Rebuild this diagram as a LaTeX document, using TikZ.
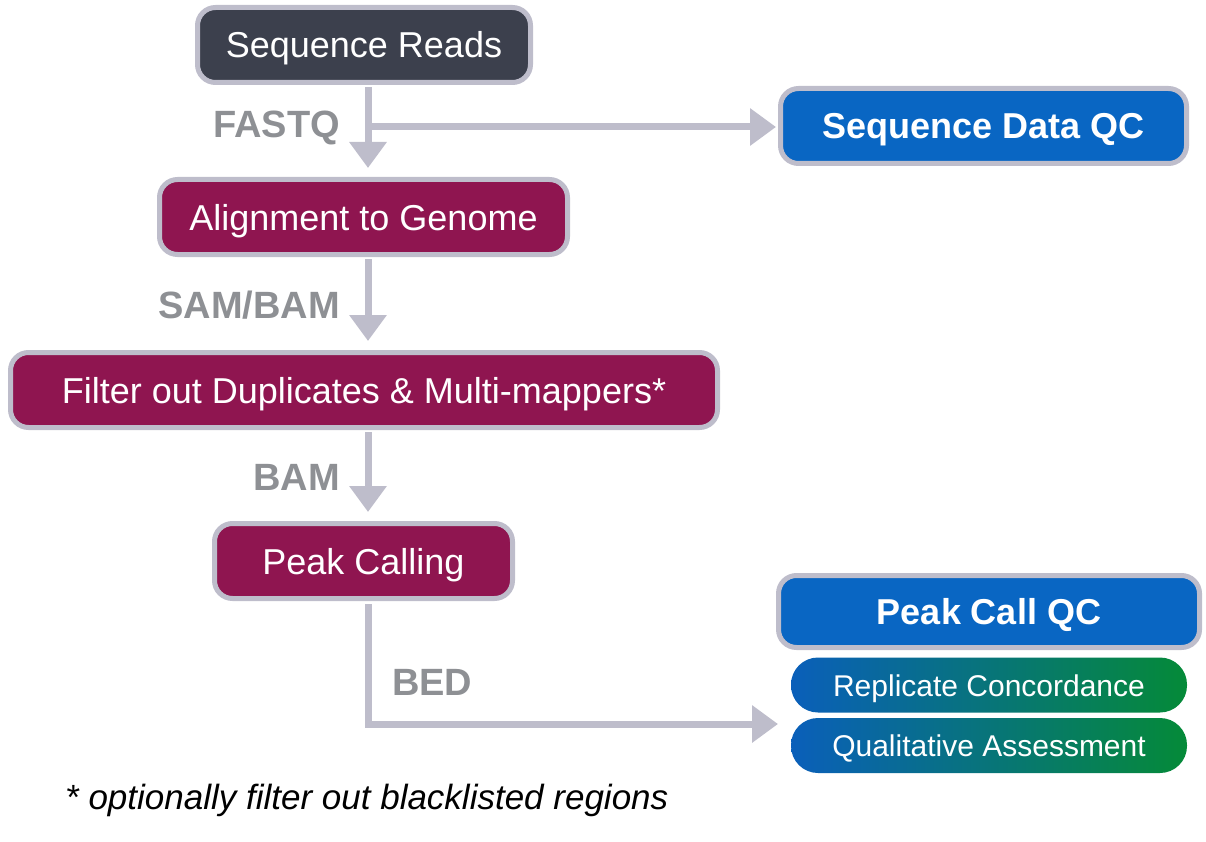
\documentclass[tikz,border=0pt]{standalone}
\usepackage{fontspec}
\setmainfont{Liberation Sans}
\usetikzlibrary{arrows.meta}

\definecolor{rim}{HTML}{BEBDCB}
\definecolor{slate}{HTML}{3C404D}
\definecolor{wine}{HTML}{8F1550}
\definecolor{qcblue}{HTML}{0966C3}
\definecolor{tagtext}{HTML}{8E9094}
\definecolor{gradblue}{HTML}{0A5FBA}
\definecolor{gradgreen}{HTML}{058A38}

\tikzset{
  box/.style={draw=rim, line width=5pt, rounded corners=18pt, text=white,
    inner sep=0pt, minimum height=75pt, text height=26pt, text depth=0pt,
    font=\fontsize{36}{43}\selectfont},
  darkbox/.style={box, fill=slate},
  stepbox/.style={box, fill=wine},
  qcbox/.style={box, fill=qcblue, font=\fontsize{36}{43}\selectfont\bfseries},
  subbox/.style={rounded corners=27pt, left color=gradblue, right color=gradgreen,
    text=white, inner sep=0pt, minimum width=396pt, minimum height=55pt,
    text height=22pt, text depth=0pt,
    font=\fontsize{30}{36}\selectfont},
  flow/.style={draw=rim, line width=7pt,
    -{Triangle[width=36pt, length=26pt]}},
  tag/.style={text=tagtext, font=\fontsize{38}{44}\selectfont\bfseries, inner sep=0pt}
}

\begin{document}
\begin{tikzpicture}[x=1pt, y=-1pt]
  \useasboundingbox (0,0) rectangle (1206,842);

  % main column
  \coordinate (spine) at (368,0);
  \node[darkbox, minimum width=333pt] (reads) at (364,45) {Sequence Reads};
  \node[stepbox, minimum width=408pt] (align) at (363.5,217) {Alignment to Genome};
  \node[stepbox, minimum width=707pt] (filter) at (364,390) {Filter out Duplicates \& Multi-mappers*};
  \node[stepbox, minimum width=298pt] (peak) at (363.5,561) {Peak Calling};

  % quality control side
  \node[qcbox, minimum width=406pt] (seqqc) at (983.5,126) {Sequence Data QC};
  \node[qcbox, minimum width=421pt, minimum height=72pt] (peakqc) at (989,611.5) {Peak Call QC};
  \node[subbox] (concord) at (989,685) {Replicate Concordance};
  \node[subbox] (quali) at (989,745.5) {Qualitative Assessment};

  % connectors
  \coordinate (fork) at (368,127);
  \coordinate (bedend) at (778,724);
  \draw[flow, shorten <=2pt, shorten >=9pt] (reads.south -| spine) -- (align.north -| spine);
  \draw[flow, shorten >=2pt] (fork) -- (seqqc.west |- fork);
  \draw[flow, shorten <=2pt, shorten >=9pt] (align.south -| spine) -- (filter.north -| spine);
  \draw[flow, shorten <=2pt, shorten >=9pt] (filter.south -| spine) -- (peak.north -| spine);
  \draw[flow, shorten <=3pt] (peak.south -| spine) |- (bedend);

  % file format labels
  \node[tag, anchor=east] (fastq) at (340,128) {FASTQ};
  \node[tag, anchor=east] (sambam) at (340,305) {SAM/BAM};
  \node[tag, anchor=east] (bam) at (340,477) {BAM};
  \node[tag, anchor=west] (bed) at (392,682) {BED};

  % footnote
  \node[anchor=west, inner sep=0pt, font=\fontsize{35}{42}\selectfont\itshape] (note)
    at (65,800) {* optionally filter out blacklisted regions};
\end{tikzpicture}
\end{document}
